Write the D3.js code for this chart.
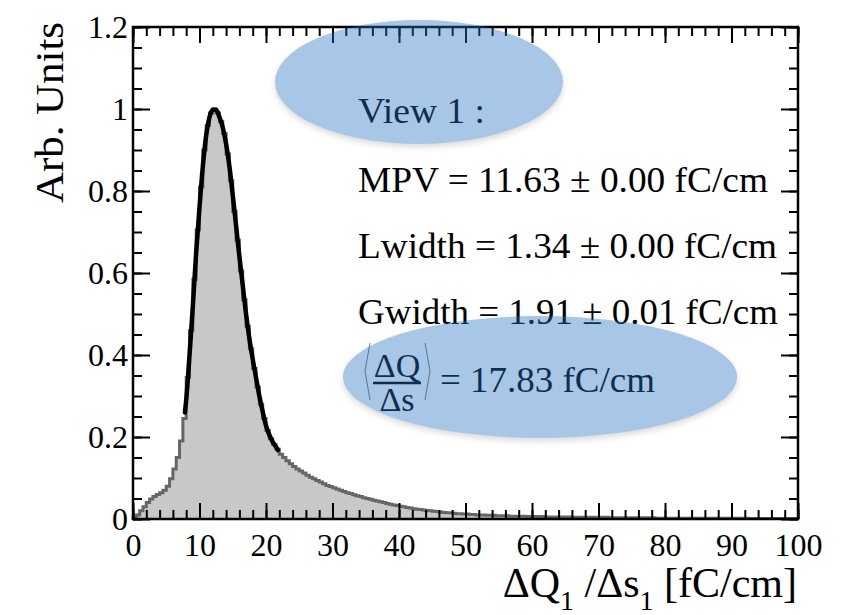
<!DOCTYPE html>
<html>
<head>
<meta charset="utf-8">
<script src="https://cdn.jsdelivr.net/npm/d3@7/dist/d3.min.js"></script>
<style>
  html, body { margin: 0; padding: 0; background: #fff; }
  svg { display: block; font-family: "Liberation Serif", "DejaVu Serif", serif; }
</style>
</head>
<body>
<svg id="chart" width="841" height="615"></svg>
<script>
// ── Data ─────────────────────────────────────────────────────────────────────
const binWidth = 0.5;
// normalised dQ/ds histogram, one value per 0.5 fC/cm bin from 0 to 100
const histValues = [
  0.003, 0.010, 0.020, 0.030, 0.040, 0.049, 0.055, 0.060, 0.064, 0.070,
  0.080, 0.098, 0.122, 0.150, 0.190, 0.245, 0.345, 0.460, 0.585, 0.705,
  0.810, 0.900, 0.960, 0.990, 1.000, 0.990, 0.970, 0.940, 0.890, 0.825,
  0.750, 0.680, 0.605, 0.535, 0.470, 0.415, 0.367, 0.322, 0.280, 0.245,
  0.216, 0.196, 0.182, 0.170, 0.158, 0.150, 0.142, 0.135, 0.128, 0.122,
  0.117, 0.112, 0.107, 0.102, 0.098, 0.094, 0.090, 0.086, 0.082, 0.079,
  0.076, 0.073, 0.070, 0.067, 0.064, 0.062, 0.059, 0.057, 0.055, 0.052,
  0.050, 0.048, 0.046, 0.044, 0.042, 0.040, 0.038, 0.036, 0.034, 0.033,
  0.031, 0.030, 0.028, 0.027, 0.025, 0.024, 0.023, 0.022, 0.021, 0.020,
  0.019, 0.018, 0.017, 0.016, 0.015, 0.015, 0.014, 0.013, 0.013, 0.012,
  0.012, 0.011, 0.011, 0.010, 0.010, 0.010, 0.009, 0.009, 0.009, 0.008,
  0.008, 0.008, 0.008, 0.007, 0.007, 0.007, 0.007, 0.007, 0.006, 0.006,
  0.006, 0.006, 0.006, 0.006, 0.005, 0.005, 0.005, 0.005, 0.005, 0.005,
  0.005, 0.005, 0.004, 0.004, 0.004, 0.004, 0.004, 0.004, 0.004, 0.004,
  0.004, 0.004, 0.004, 0.003, 0.003, 0.003, 0.003, 0.003, 0.003, 0.003,
  0.003, 0.003, 0.003, 0.003, 0.003, 0.003, 0.003, 0.002, 0.002, 0.002,
  0.002, 0.002, 0.002, 0.002, 0.002, 0.002, 0.002, 0.002, 0.002, 0.002,
  0.002, 0.002, 0.002, 0.002, 0.002, 0.002, 0.002, 0.002, 0.002, 0.002,
  0.002, 0.002, 0.002, 0.002, 0.002, 0.001, 0.001, 0.001, 0.001, 0.001,
  0.001, 0.001, 0.001, 0.001, 0.001, 0.001, 0.001, 0.001, 0.001, 0.001,
];

// Landau (x) Gauss fit, sampled where it is drawn
const fitX = [7.8, 8.0, 8.5, 9.0, 9.5, 10.0, 10.5, 11.0, 11.5, 12.0, 12.5, 13.0,
  13.5, 14.0, 14.5, 15.0, 15.5, 16.0, 16.5, 17.0, 17.5, 18.0, 18.5, 19.0,
  19.5, 20.0, 20.5, 21.0, 21.5, 21.8];
const fitY = [0.26, 0.29, 0.40, 0.52, 0.65, 0.76, 0.86, 0.935, 0.98, 0.998, 0.998, 0.98,
  0.955, 0.915, 0.86, 0.79, 0.715, 0.64, 0.57, 0.50, 0.44, 0.39, 0.345, 0.30,
  0.262, 0.228, 0.205, 0.188, 0.176, 0.168];

const xTicks = [0, 10, 20, 30, 40, 50, 60, 70, 80, 90, 100];
const xTickLabels = ['0', '10', '20', '30', '40', '50', '60', '70', '80', '90', '100'];
const yTicks = [0, 0.2, 0.4, 0.6, 0.8, 1, 1.2];
const yTickLabels = ['0', '0.2', '0.4', '0.6', '0.8', '1', '1.2'];

const statLines = [
  'View 1 :',
  'MPV = 11.63 \u00b1 0.00 fC/cm',
  'Lwidth = 1.34 \u00b1 0.00 fC/cm',
  'Gwidth = 1.91 \u00b1 0.01 fC/cm',
];
const meanLabel = '= 17.83 fC/cm';

// ── Layout ───────────────────────────────────────────────────────────────────
const frame = { left: 133, right: 798, top: 27, bottom: 519 };

const svg = d3.select('#chart');

const x = d3.scaleLinear().domain([0, 100]).range([frame.left, frame.right]);
const y = d3.scaleLinear().domain([0, 1.2]).range([frame.bottom, frame.top]);

// ── Histogram ────────────────────────────────────────────────────────────────
const steps = histValues.map((v, i) => ({ x: i * binWidth, v }));
steps.push({ x: 100, v: histValues[histValues.length - 1] });

const area = d3.area()
  .curve(d3.curveStepAfter)
  .x((d) => x(d.x))
  .y0(y(0))
  .y1((d) => y(d.v));

svg.append('path')
  .datum(steps)
  .attr('d', area)
  .attr('fill', '#c8c8c8');

const outline = [{ x: 0, v: 0 }, ...steps];
svg.append('path')
  .datum(outline)
  .attr('d', d3.line().curve(d3.curveStepAfter).x((d) => x(d.x)).y((d) => y(d.v)))
  .attr('fill', 'none')
  .attr('stroke', '#666')
  .attr('stroke-width', 3);

// fit curve
svg.append('path')
  .datum(fitX.map((fx, i) => [fx, fitY[i]]))
  .attr('d', d3.line().curve(d3.curveMonotoneX).x((d) => x(d[0])).y((d) => y(d[1])))
  .attr('fill', 'none')
  .attr('stroke', '#000')
  .attr('stroke-width', 4.5)
  .attr('stroke-linecap', 'round');

// ── Axes (ROOT style: ticks inside on all four sides) ───────────────────────
const xMinor = d3.range(0, 101, 2);
const yMinor = d3.range(0, 1.2001, 0.05);

function styleAxis(g) {
  g.select('.domain').remove();
  g.selectAll('line').attr('stroke', '#000').attr('stroke-width', 2);
  g.selectAll('text').attr('font-size', 32).attr('fill', '#000')
    .attr('font-family', '"Liberation Serif", serif');
}

// bottom
svg.append('g').attr('transform', `translate(0,${frame.bottom})`)
  .call(d3.axisBottom(x).tickValues(xMinor).tickSize(-9).tickFormat(''))
  .call(styleAxis);
svg.append('g').attr('transform', `translate(0,${frame.bottom})`)
  .call(d3.axisBottom(x).tickValues(xTicks).tickSize(-16).tickPadding(14)
    .tickFormat((d, i) => xTickLabels[i]))
  .call(styleAxis);
// top
svg.append('g').attr('transform', `translate(0,${frame.top})`)
  .call(d3.axisTop(x).tickValues(xMinor).tickSize(-9).tickFormat(''))
  .call(styleAxis);
svg.append('g').attr('transform', `translate(0,${frame.top})`)
  .call(d3.axisTop(x).tickValues(xTicks).tickSize(-16).tickFormat(''))
  .call(styleAxis);
// left
svg.append('g').attr('transform', `translate(${frame.left},0)`)
  .call(d3.axisLeft(y).tickValues(yMinor).tickSize(-9).tickFormat(''))
  .call(styleAxis);
svg.append('g').attr('transform', `translate(${frame.left},0)`)
  .call(d3.axisLeft(y).tickValues(yTicks).tickSize(-17).tickPadding(5)
    .tickFormat((d, i) => yTickLabels[i]))
  .call(styleAxis);
// right
svg.append('g').attr('transform', `translate(${frame.right},0)`)
  .call(d3.axisRight(y).tickValues(yMinor).tickSize(-9).tickFormat(''))
  .call(styleAxis);
svg.append('g').attr('transform', `translate(${frame.right},0)`)
  .call(d3.axisRight(y).tickValues(yTicks).tickSize(-17).tickFormat(''))
  .call(styleAxis);

// frame
svg.append('rect')
  .attr('x', frame.left).attr('y', frame.top)
  .attr('width', frame.right - frame.left).attr('height', frame.bottom - frame.top)
  .attr('fill', 'none').attr('stroke', '#000').attr('stroke-width', 2.5);

// axis titles
svg.append('text')
  .attr('transform', 'translate(63,22) rotate(-90)')
  .attr('text-anchor', 'end')
  .attr('font-size', 40)
  .attr('textLength', 181)
  .attr('lengthAdjust', 'spacingAndGlyphs')
  .text('Arb. Units');

const xt = svg.append('text')
  .attr('x', 797).attr('y', 597)
  .attr('text-anchor', 'end')
  .attr('font-size', 42);
xt.append('tspan').text('\u0394Q');
xt.append('tspan').attr('dy', 13).attr('font-size', 28).text('1');
xt.append('tspan').attr('dy', -13).text(' /\u0394s');
xt.append('tspan').attr('dy', 13).attr('font-size', 28).text('1');
xt.append('tspan').attr('dy', -13).text(' [fC/cm]');

// ── Fit statistics ───────────────────────────────────────────────────────────
const statBase = [123, 192, 258, 324];
const statEnd = [485, 768, 777, 778];
svg.append('g').selectAll('text')
  .data(statLines)
  .join('text')
  .attr('x', 358)
  .attr('y', (d, i) => statBase[i])
  .attr('font-size', 36)
  .attr('textLength', (d, i) => statEnd[i] - 358)
  .attr('lengthAdjust', 'spacingAndGlyphs')
  .text((d) => d);

// <dQ/ds> = ...
const frac = svg.append('g');
frac.append('text').attr('x', 397).attr('y', 377).attr('text-anchor', 'middle')
  .attr('font-size', 34).text('\u0394Q');
frac.append('line').attr('x1', 373).attr('x2', 421).attr('y1', 383).attr('y2', 383)
  .attr('stroke', '#000').attr('stroke-width', 2.5);
frac.append('text').attr('x', 397).attr('y', 411).attr('text-anchor', 'middle')
  .attr('font-size', 34).text('\u0394s');
frac.append('path').attr('d', 'M370,343 L365,371 L370,400 M425,343 L430,371 L425,400')
  .attr('fill', 'none').attr('stroke', '#777').attr('stroke-width', 1);
svg.append('text').attr('x', 440).attr('y', 392).attr('font-size', 36)
  .attr('textLength', 215).attr('lengthAdjust', 'spacingAndGlyphs')
  .text(meanLabel);

// ── Highlight ellipses (translucent, on top) ─────────────────────────────────
const ellipses = [
  { cx: 419, cy: 82, rx: 144, ry: 62 },
  { cx: 540, cy: 377, rx: 197, ry: 61 },
];

const defs = svg.append('defs');
defs.append('filter').attr('id', 'blur')
  .attr('x', '-10%').attr('y', '-10%').attr('width', '120%').attr('height', '130%')
  .append('feGaussianBlur').attr('stdDeviation', 3);
// shadow only outside the ellipse, so it does not tint the translucent fill
const mask = defs.append('mask').attr('id', 'outside')
  .attr('maskUnits', 'userSpaceOnUse')
  .attr('x', 0).attr('y', 0).attr('width', 841).attr('height', 615);
mask.append('rect').attr('width', 841).attr('height', 615).attr('fill', '#fff');
mask.selectAll('ellipse').data(ellipses).join('ellipse')
  .attr('cx', (d) => d.cx).attr('cy', (d) => d.cy)
  .attr('rx', (d) => d.rx).attr('ry', (d) => d.ry)
  .attr('fill', '#000');

svg.append('g').attr('mask', 'url(#outside)')
  .selectAll('ellipse')
  .data(ellipses)
  .join('ellipse')
  .attr('cx', (d) => d.cx).attr('cy', (d) => d.cy + 3)
  .attr('rx', (d) => d.rx).attr('ry', (d) => d.ry)
  .attr('fill', '#000')
  .attr('fill-opacity', 0.15)
  .attr('filter', 'url(#blur)');

svg.append('g').selectAll('ellipse')
  .data(ellipses)
  .join('ellipse')
  .attr('cx', (d) => d.cx).attr('cy', (d) => d.cy)
  .attr('rx', (d) => d.rx).attr('ry', (d) => d.ry)
  .attr('fill', '#2570c0')
  .attr('fill-opacity', 0.4);
</script>
</body>
</html>
